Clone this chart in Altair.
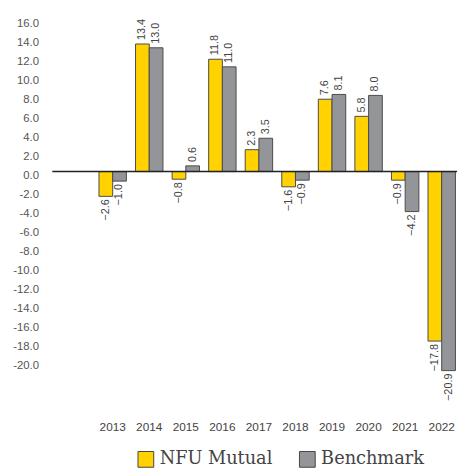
import altair as alt
import pandas as pd

years = ["2013", "2014", "2015", "2016", "2017", "2018", "2019", "2020", "2021", "2022"]
nfu = [-2.6, 13.4, -0.8, 11.8, 2.3, -1.6, 7.6, 5.8, -0.9, -17.8]
bench = [-1.0, 13.0, 0.6, 11.0, 3.5, -0.9, 8.1, 8.0, -4.2, -20.9]
series = ["NFU Mutual", "Benchmark"]
colors = ["#FFD200", "#939598"]
y_ticks = list(range(-20, 17, 2))

rows = []
for i, yr in enumerate(years):
    rows.append({"year": yr, "series": series[0], "value": nfu[i]})
    rows.append({"year": yr, "series": series[1], "value": bench[i]})
df = pd.DataFrame(rows)

W, H = 411, 367.5

x = alt.X("year:N", sort=years,
          scale=alt.Scale(range=[47.4, 409.4], paddingInner=0.25, paddingOuter=0),
          axis=alt.Axis(title=None, labelAngle=0, ticks=False, domain=False,
                        labelPadding=41, labelFont="Liberation Sans", labelFontSize=12,
                        labelColor="#444", labelBaseline="top"))
xo = alt.XOffset("series:N", sort=series, scale=alt.Scale(paddingInner=0, paddingOuter=0))
yscale = alt.Scale(domain=[-22, 16], nice=False, zero=False)
y_axis = alt.Axis(title=None, values=y_ticks, ticks=False, domain=False, grid=False,
                  labelPadding=14, labelOffset=4, labelFont="Liberation Sans",
                  labelFontSize=11.5, labelColor="#555", labelOverlap=False,
                  labelFlush=False,
                  labelExpr="replace(format(datum.value, '.1f'), '\u2212', '-')")

base = alt.Chart(df)

bars = base.mark_bar(stroke="#4a4a4a", strokeWidth=1).encode(
    x=x,
    xOffset=xo,
    y=alt.Y("value:Q", scale=yscale, axis=y_axis),
    y2=alt.datum(0),
    color=alt.Color("series:N", sort=series,
                    scale=alt.Scale(domain=series, range=colors),
                    legend=alt.Legend(title=None, orient="none", legendX=86, legendY=438,
                                      direction="horizontal", symbolType="square",
                                      symbolSize=256, symbolStrokeColor="#444",
                                      symbolStrokeWidth=1, labelFont="DejaVu Serif",
                                      labelFontSize=18, labelColor="#444",
                                      labelOffset=5, columnPadding=25, padding=0)),
)

pos_text = base.transform_filter("datum.value >= 0").mark_text(
    angle=270, align="left", baseline="middle", dx=4,
    font="Liberation Sans", fontSize=11, color="#444"
).encode(x=x, xOffset=xo, y=alt.Y("value:Q", scale=yscale, axis=y_axis),
         text=alt.Text("value:Q", format=".1f"))

neg_text = base.transform_filter("datum.value < 0").mark_text(
    angle=270, align="right", baseline="middle", dx=-3,
    font="Liberation Sans", fontSize=11, color="#444"
).encode(x=x, xOffset=xo, y=alt.Y("value:Q", scale=yscale, axis=y_axis),
         text=alt.Text("value:Q", format=".1f"))

zero = alt.Chart(pd.DataFrame({"v": [0]})).mark_rule(color="#222", strokeWidth=1.5).encode(
    y=alt.Y("v:Q", scale=yscale, axis=y_axis)
)

chart = alt.layer(bars, pos_text, neg_text, zero).properties(
    width=W, height=H,
    autosize=alt.AutoSizeParams(type="none"),
    padding={"left": 45, "top": 7.8, "right": 0, "bottom": 86.7},
).configure_view(stroke=None)

chart.save("out.html", embed_options={"renderer": "svg", "actions": False})
